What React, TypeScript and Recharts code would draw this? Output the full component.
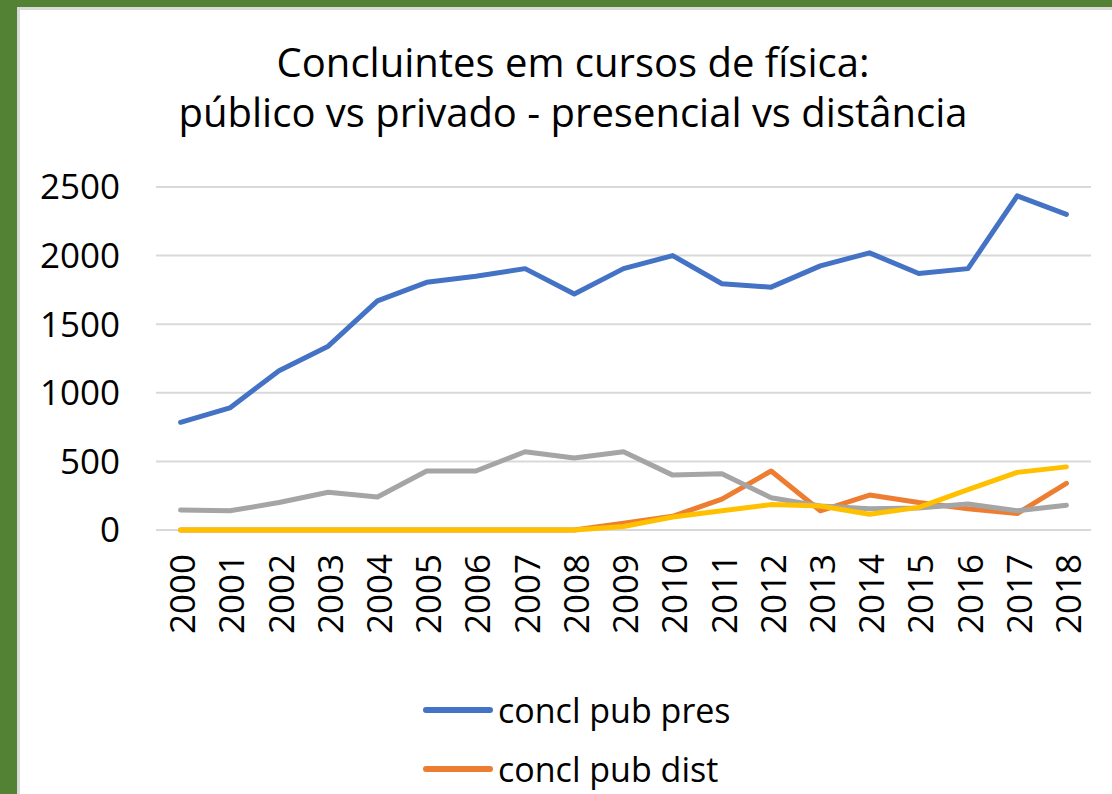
import { CartesianGrid, Line, LineChart, XAxis, YAxis } from 'recharts'

const years = [
  '2000', '2001', '2002', '2003', '2004', '2005', '2006', '2007', '2008', '2009',
  '2010', '2011', '2012', '2013', '2014', '2015', '2016', '2017', '2018',
]
const pubPres = [785, 890, 1160, 1340, 1670, 1805, 1850, 1905, 1720, 1905, 2000, 1795, 1770, 1925, 2020, 1870, 1905, 2435, 2300]
const pubDist = [0, 0, 0, 0, 0, 0, 0, 0, 0, 50, 100, 225, 430, 140, 255, 200, 155, 120, 340]
const privPres = [145, 140, 200, 275, 240, 430, 430, 570, 525, 570, 400, 410, 235, 175, 155, 160, 190, 140, 180]
const privDist = [0, 0, 0, 0, 0, 0, 0, 0, 0, 25, 95, 140, 185, 175, 115, 165, 295, 420, 460]
const yTicks = [0, 500, 1000, 1500, 2000, 2500]

const series = [
  { key: 'pubPres', name: 'concl pub pres', color: '#4472C4' },
  { key: 'pubDist', name: 'concl pub dist', color: '#ED7D31' },
  { key: 'privPres', name: 'concl priv pres', color: '#A5A5A5' },
  { key: 'privDist', name: 'concl priv dist', color: '#FFC000' },
]

const data = years.map((year, i) => ({
  year,
  pubPres: pubPres[i],
  pubDist: pubDist[i],
  privPres: privPres[i],
  privDist: privDist[i],
}))

const font = '"Open Sans", sans-serif'

function YearTick({ x, y, payload }: any) {
  return (
    <text
      x={x + 2}
      y={y + 24}
      transform={`rotate(-90, ${x + 2}, ${y + 24})`}
      textAnchor="end"
      dy="0.36em"
      fontSize={35}
      fontFamily={font}
      fill="#000"
    >
      {payload.value}
    </text>
  )
}

export default function App() {
  return (
    <div
      style={{
        position: 'fixed',
        left: 0,
        top: 0,
        width: 1112,
        height: 794,
        overflow: 'hidden',
        background: '#548235',
      }}
    >
      <div
        style={{
          position: 'absolute',
          left: 17,
          top: 7,
          width: 1095,
          height: 787,
          background: '#fff',
          borderLeft: '3px solid #D9D9D9',
          borderTop: '3px solid #D9D9D9',
          boxSizing: 'border-box',
        }}
      />
      <div
        style={{
          position: 'absolute',
          left: 123,
          top: 37,
          width: 900,
          textAlign: 'center',
          fontFamily: font,
          fontSize: 40,
          lineHeight: '50px',
          color: '#000',
        }}
      >
        Concluintes em cursos de física:
        <br />
        público vs privado - presencial vs distância
      </div>
      <div style={{ position: 'absolute', left: 0, top: 0 }}>
        <LineChart
          width={1112}
          height={794}
          data={data}
          margin={{ top: 187, right: 21, bottom: 164, left: 20 }}
        >
          <CartesianGrid vertical={false} stroke="#D9D9D9" strokeWidth={2} />
          <XAxis
            dataKey="year"
            axisLine={false}
            tickLine={false}
            tickSize={0}
            tickMargin={0}
            interval={0}
            padding={{ left: 24.6, right: 24.6 }}
            tick={<YearTick />}
            height={100}
          />
          <YAxis
            domain={[0, 2500]}
            ticks={yTicks}
            width={136}
            axisLine={false}
            tickLine={false}
            tickSize={0}
            tickMargin={36}
            tick={{ fontSize: 35, fontFamily: font, fill: '#000' }}
          />
          {series.map((s) => (
            <Line
              key={s.key}
              dataKey={s.key}
              name={s.name}
              stroke={s.color}
              strokeWidth={5}
              strokeLinecap="round"
              strokeLinejoin="round"
              dot={false}
              isAnimationActive={false}
            />
          ))}
        </LineChart>
      </div>
      <div style={{ position: 'absolute', left: 423, top: 680 }}>
        {series.map((s) => (
          <div
            key={s.key}
            style={{ display: 'flex', alignItems: 'center', height: 59 }}
          >
            <div
              style={{
                width: 70,
                height: 6,
                borderRadius: 3,
                background: s.color,
                marginRight: 5,
              }}
            />
            <span
              style={{
                fontFamily: font,
                fontSize: 34,
                lineHeight: '40px',
                color: '#000',
              }}
            >
              {s.name}
            </span>
          </div>
        ))}
      </div>
    </div>
  )
}
